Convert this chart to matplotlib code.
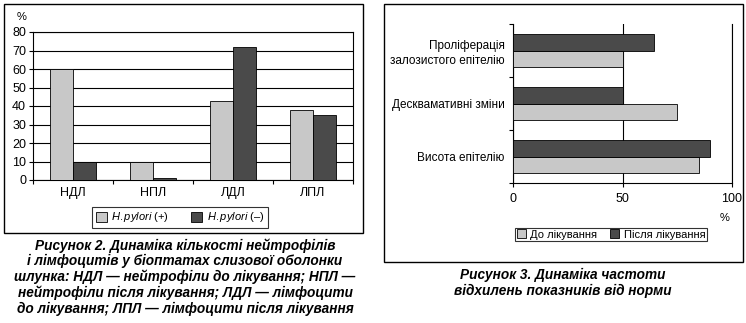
import numpy as np
import matplotlib.pyplot as plt
from matplotlib.patches import Rectangle, Patch

plt.rcParams['font.family'] = ['Liberation Sans', 'DejaVu Sans']
plt.rcParams['mathtext.fontset'] = 'custom'
plt.rcParams['mathtext.it'] = 'Liberation Sans:italic'
plt.rcParams['mathtext.rm'] = 'Liberation Sans'

# Figure 2 data: neutrophils / lymphocytes, %
cells = ['НДЛ', 'НПЛ', 'ЛДЛ', 'ЛПЛ']
hp_pos = [60, 9.5, 42.5, 38]
hp_neg = [9.5, 1, 72, 35]
y_ticks = [0, 10, 20, 30, 40, 50, 60, 70, 80]

# Figure 3 data: deviation frequency, %
signs = ['Висота епітелію', 'Десквамативні зміни',
         'Проліферація\nзалозистого епітелію']
before = [85, 75, 50]
after = [90, 50, 64.5]
x_ticks = [0, 50, 100]

light = '#c8c8c8'
dark = '#4a4a4a'

fig = plt.figure(figsize=(7.46, 3.23), dpi=100)
W, H = 746, 323

def fx(px):
    return px / W

def fy(py):
    return 1 - py / H

# outer frames round both charts
fig.patches.append(Rectangle((fx(4), fy(233)), fx(359), 229 / H, transform=fig.transFigure,
                             fill=False, edgecolor='black', linewidth=1.0))
fig.patches.append(Rectangle((fx(384), fy(262)), fx(359), 258 / H, transform=fig.transFigure,
                             fill=False, edgecolor='black', linewidth=1.0))

# --- Figure 2: grouped vertical bars ---
ax1 = fig.add_axes([fx(33), fy(180), fx(320), 148 / H])
x = np.arange(len(cells))
w = 0.29
ax1.bar(x - w / 2, hp_pos, w, color=light, edgecolor='black', linewidth=0.6, zorder=3)
ax1.bar(x + w / 2, hp_neg, w, color=dark, edgecolor='black', linewidth=0.6, zorder=3)
ax1.set_xlim(-0.5, len(cells) - 0.5)
ax1.set_ylim(0, 80)
ax1.set_yticks(y_ticks)
ax1.set_yticklabels([str(v) for v in y_ticks], fontsize=9)
ax1.yaxis.grid(True, color='black', linewidth=0.8, zorder=0)
ax1.set_xticks(x)
ax1.set_xticklabels(cells, fontsize=9)
ax1.set_xticks(np.arange(len(cells) + 1) - 0.5, minor=True)
ax1.tick_params(axis='x', which='major', length=0, pad=5)
ax1.tick_params(axis='x', which='minor', length=3, direction='out', width=0.8)
ax1.tick_params(axis='y', length=3, direction='out', width=0.8, pad=2)
for s in ax1.spines.values():
    s.set_linewidth(0.8)
ax1.text(fx(22), fy(17), '%', transform=fig.transFigure, fontsize=8, ha='center', va='center')

leg1 = fig.legend(handles=[Patch(facecolor=light, edgecolor='black', linewidth=0.6),
                           Patch(facecolor=dark, edgecolor='black', linewidth=0.6)],
                  labels=[r'$\it{H.pylori}$ (+)', r'$\it{H.pylori}$ (–)'],
                  loc='center', bbox_to_anchor=(fx(180), fy(217.5)), ncol=2,
                  fontsize=8, frameon=True, fancybox=False, handlelength=1.0,
                  handleheight=1.0, handletextpad=0.4, columnspacing=2.0,
                  borderpad=0.3, borderaxespad=0)
leg1.get_frame().set_edgecolor('black')
leg1.get_frame().set_linewidth(0.8)

# --- Figure 3: grouped horizontal bars ---
ax2 = fig.add_axes([fx(513), fy(183), fx(219), 159 / H])
y = np.arange(len(signs))
h = 0.31
ax2.barh(y - h / 2, before, h, color=light, edgecolor='black', linewidth=0.6, zorder=3)
ax2.barh(y + h / 2, after, h, color=dark, edgecolor='black', linewidth=0.6, zorder=3)
ax2.set_xlim(0, 100)
ax2.set_ylim(-0.5, len(signs) - 0.5)
ax2.set_xticks(x_ticks)
ax2.set_xticklabels([str(v) for v in x_ticks], fontsize=9)
ax2.xaxis.grid(True, color='black', linewidth=0.8, zorder=0)
ax2.set_yticks(y)
ax2.set_yticklabels(signs, fontsize=8.5, linespacing=1.3)
ax2.set_yticks(np.arange(len(signs) + 1) - 0.5, minor=True)
ax2.tick_params(axis='y', which='major', length=0, pad=6)
ax2.tick_params(axis='y', which='minor', length=3, direction='out', width=0.8)
ax2.tick_params(axis='x', length=3, direction='out', width=0.8, pad=4)
ax2.spines['top'].set_visible(False)
for s in ax2.spines.values():
    s.set_linewidth(0.8)
ax2.text(fx(725), fy(218), '%', transform=fig.transFigure, fontsize=8, ha='center', va='center')

leg2 = fig.legend(handles=[Patch(facecolor=light, edgecolor='black', linewidth=0.6),
                           Patch(facecolor=dark, edgecolor='black', linewidth=0.6)],
                  labels=['До лікування', 'Після лікування'],
                  loc='center', bbox_to_anchor=(fx(611), fy(234.5)), ncol=2,
                  fontsize=8, frameon=True, fancybox=False, handlelength=0.8,
                  handleheight=0.8, handletextpad=0.4, columnspacing=1.2,
                  borderpad=0.15, borderaxespad=0)
leg2.get_frame().set_edgecolor('black')
leg2.get_frame().set_linewidth(0.8)

# captions
cap_style = dict(ha='center', va='center', fontsize=9.8, fontweight='bold',
                 fontstyle='italic', linespacing=1.12, transform=fig.transFigure)
fig.text(fx(185), fy(277),
         'Рисунок 2. Динаміка кількості нейтрофілів\n'
         'і лімфоцитів у біоптатах слизової оболонки\n'
         'шлунка: НДЛ — нейтрофіли до лікування; НПЛ —\n'
         'нейтрофіли після лікування; ЛДЛ — лімфоцити\n'
         'до лікування; ЛПЛ — лімфоцити після лікування', **cap_style)
fig.text(fx(563), fy(283),
         'Рисунок 3. Динаміка частоти\n'
         'відхилень показників від норми', **cap_style)

fig.savefig('out.png', dpi=100)
